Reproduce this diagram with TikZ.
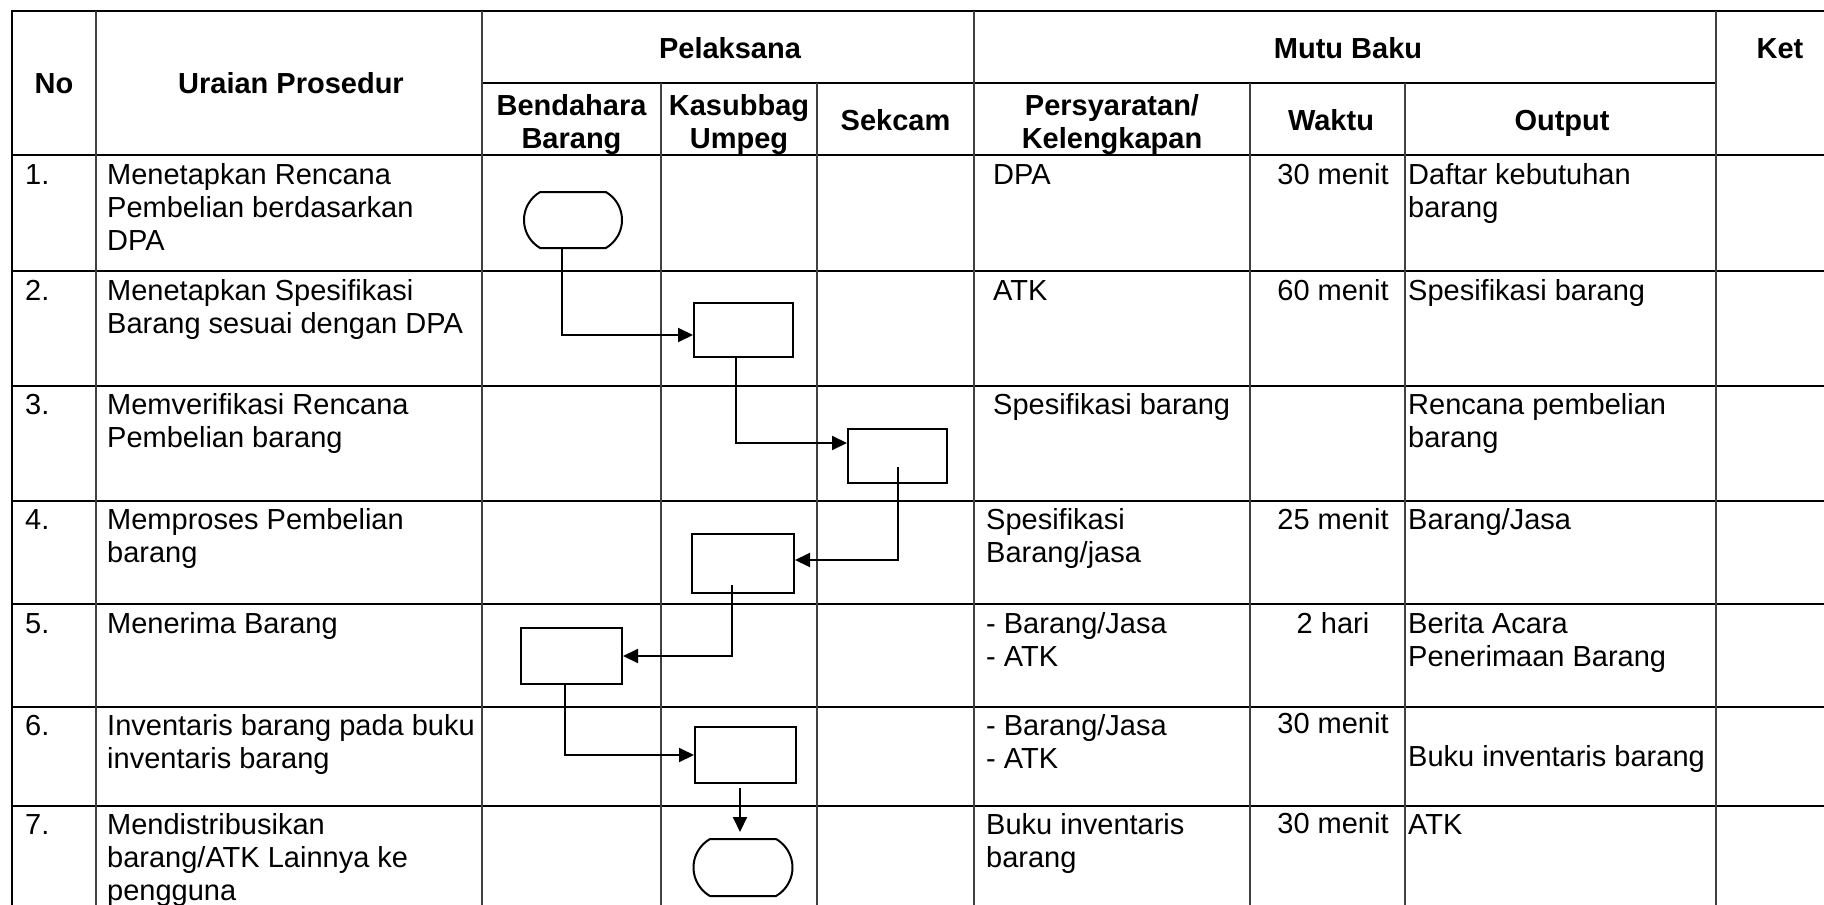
\documentclass[tikz,border=0pt]{standalone}
\usepackage{fontspec}
\setmainfont{Liberation Sans}
\usetikzlibrary{arrows.meta,shapes.misc}
\newcommand\ltx[1]{\vtop{\halign{##\hfil\cr#1\crcr}}}
\newcommand\ctx[1]{\vtop{\halign{\hfil##\hfil\cr#1\crcr}}}
\begin{document}
\begin{tikzpicture}[x=1pt,y=-1pt,
  hline/.style={line width=2.2pt, black},
  vline/.style={line width=1.3pt, black!75},
  txt/.style={anchor=base west, inner sep=0pt, font=\fontsize{29}{33.3}\selectfont},
  hdr/.style={anchor=base, inner sep=0pt, font=\fontsize{29}{33.3}\selectfont\bfseries},
  ctr/.style={anchor=base, inner sep=0pt, font=\fontsize{29}{33.3}\selectfont},
  proc/.style={draw, line width=2pt, rectangle, inner sep=0pt},
  term/.style={draw, line width=2pt, rounded rectangle, rounded rectangle arc length=120, inner sep=0pt},
  arr/.style={line width=2pt, -{Triangle[length=15pt,width=14pt]}}
]
\useasboundingbox (0,0) rectangle (1824,905);
\clip (0,0) rectangle (1824,905);
\fill[white] (0,0) rectangle (1824,905);

% table grid
\foreach \y in {155,271,386,501,604,707,806} \draw[hline] (12,\y) -- (1824,\y);
\draw[line width=2.5pt] (10.75,11) -- (1824,11);
\draw[hline] (482,83) -- (1716,83);
\draw[line width=2.5pt] (12,11) -- (12,905);
\foreach \x in {96,482,974,1716} \draw[vline] (\x,11) -- (\x,905);
\foreach \x in {661,817,1250,1405} \draw[vline] (\x,83) -- (\x,905);

% headers
\node[hdr] (hNo) at (54,93) {No};
\node[hdr] (hUr) at (291,93) {Uraian Prosedur};
\node[hdr] (hPel) at (730,58) {Pelaksana};
\node[hdr] (hMutu) at (1348,58) {Mutu Baku};
\node[hdr] (hKet) at (1780,58) {Ket};
\node[hdr] (hBend) at (571.5,115) {\ctx{Bendahara\cr Barang}};
\node[hdr] (hKas) at (739,115) {\ctx{Kasubbag\cr Umpeg}};
\node[hdr] (hSek) at (895.5,130) {Sekcam};
\node[hdr] (hPer) at (1112,115) {\ctx{Persyaratan/\cr Kelengkapan}};
\node[hdr] (hWak) at (1331,130) {Waktu};
\node[hdr] (hOut) at (1562,130) {Output};

% numbers
\node[txt] (n1) at (25,184) {1.};
\node[txt] (n2) at (25,300) {2.};
\node[txt] (n3) at (25,414) {3.};
\node[txt] (n4) at (25,529) {4.};
\node[txt] (n5) at (25,633) {5.};
\node[txt] (n6) at (25,735) {6.};
\node[txt] (n7) at (25,834) {7.};

% uraian
\node[txt] (u1) at (107,184) {\ltx{Menetapkan Rencana\cr Pembelian berdasarkan\cr DPA}};
\node[txt] (u2) at (107,300) {\ltx{Menetapkan Spesifikasi\cr Barang sesuai dengan DPA}};
\node[txt] (u3) at (107,414) {\ltx{Memverifikasi Rencana\cr Pembelian barang}};
\node[txt] (u4) at (107,529) {\ltx{Memproses Pembelian\cr barang}};
\node[txt] (u5) at (107,633) {Menerima Barang};
\node[txt] (u6) at (107,735) {\ltx{Inventaris barang pada buku\cr inventaris barang}};
\node[txt] (u7) at (107,834) {\ltx{Mendistribusikan\cr barang/ATK Lainnya ke\cr pengguna}};

% persyaratan
\node[txt] (p1) at (993,184) {DPA};
\node[txt] (p2) at (993,300) {ATK};
\node[txt] (p3) at (993,414) {Spesifikasi barang};
\node[txt] (p4) at (986,529) {\ltx{Spesifikasi\cr Barang/jasa}};
\node[txt] (p5) at (986,633) {\ltx{- Barang/Jasa\cr - ATK}};
\node[txt] (p6) at (986,735) {\ltx{- Barang/Jasa\cr - ATK}};
\node[txt] (p7) at (986,834) {\ltx{Buku inventaris\cr barang}};

% waktu
\node[ctr] (w1) at (1333,184) {30 menit};
\node[ctr] (w2) at (1333,300) {60 menit};
\node[ctr] (w4) at (1333,529) {25 menit};
\node[ctr] (w5) at (1333,633) {2 hari};
\node[ctr] (w6) at (1333,733) {30 menit};
\node[ctr] (w7) at (1333,833) {30 menit};

% output
\node[txt] (o1) at (1408,184) {\ltx{Daftar kebutuhan\cr barang}};
\node[txt] (o2) at (1408,300) {Spesifikasi barang};
\node[txt] (o3) at (1408,414) {\ltx{Rencana pembelian\cr barang}};
\node[txt] (o4) at (1408,529) {Barang/Jasa};
\node[txt] (o5) at (1408,633) {\ltx{Berita Acara\cr Penerimaan Barang}};
\node[txt] (o6) at (1408,766) {Buku inventaris barang};
\node[txt] (o7) at (1408,834) {ATK};

% flow shapes
\node[term, minimum width=98pt, minimum height=56pt] (s1) at (573,220) {};
\node[proc, minimum width=99pt, minimum height=54pt] (s2) at (743.5,330) {};
\node[proc, minimum width=99pt, minimum height=54pt] (s3) at (897.5,456) {};
\node[proc, minimum width=102pt, minimum height=59pt] (s4) at (743,563.5) {};
\node[proc, minimum width=101pt, minimum height=56pt] (s5) at (571.5,656) {};
\node[proc, minimum width=101pt, minimum height=56pt] (s6) at (745.5,755) {};
\node[term, minimum width=99pt, minimum height=57pt] (s7) at (743,867.5) {};

% connectors
\draw[arr] ([xshift=-11pt]s1.south) |- ([yshift=-5pt]s2.west);
\draw[arr] ([xshift=-7.5pt]s2.south) |- ([yshift=13pt]s3.west);
\draw[arr] ([yshift=-11pt]s3.center) |- ([yshift=3.5pt]s4.east);
\draw[arr] ([xshift=-11pt,yshift=-21.5pt]s4.center) |- (s5.east);
\draw[arr] ([xshift=-6.5pt]s5.south) |- (s6.west);
\draw[arr, shorten <=4pt, shorten >=6pt] ([xshift=-5.5pt]s6.south) -- ([xshift=-5.5pt]s6.south |- s7.north);
\end{tikzpicture}
\end{document}
